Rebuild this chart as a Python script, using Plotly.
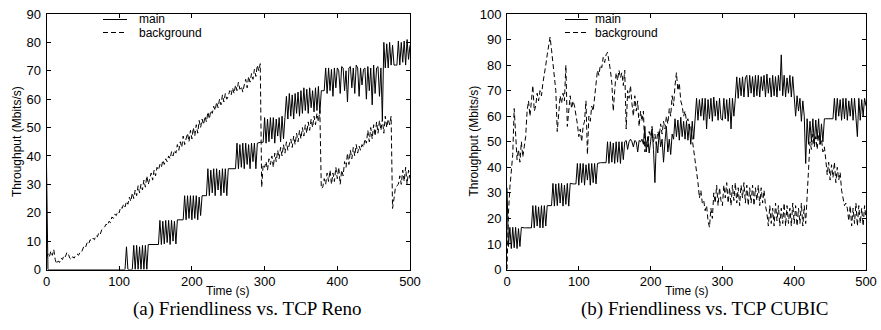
import plotly.graph_objects as go

# ---------------- data (sampled every 2 s) ----------------
time_s = list(range(0, 501, 2))

reno_main = [
    37, 0, 0, 0, 0, 0, 0, 0, 0, 0, 0, 0, 0, 0, 0, 0, 0, 0, 0, 0, 0, 0, 0, 0, 0,
    0, 0, 0, 0, 0, 0, 0, 0, 0, 0, 0, 0, 0, 0, 0, 0, 0, 0, 0, 0, 0, 0, 0, 0, 0,
    0, 0, 0, 0, 0, 8, 0, 0, 0, 0, 8.5, 0, 8.5, 0, 8, 0, 8.5, 0, 8.5, 0, 8.8, 8.8, 8.8, 8.8, 8.8,
    8.8, 8.8, 8.8, 17.3, 8.8, 17, 9, 17.3, 9.5, 17.3, 8.8, 17.3, 10, 17, 9, 17.5, 17.5, 17.5, 17.5, 17.5, 26, 17.5, 26, 18, 26,
    17.5, 26, 18, 26, 17.5, 25.5, 19, 26, 26, 26, 26, 35.5, 26, 35, 27, 35.5, 26, 35.5, 28, 35, 26, 35.5, 27, 35.5, 26,
    35.5, 35.5, 35.5, 35.5, 35.5, 35.5, 44.5, 35.5, 44, 36, 44.5, 35.5, 44.5, 37, 44, 35.5, 44.5, 38, 44.5, 35.5, 44.5, 44.8, 44.8, 44.8, 44.8,
    53.5, 44.5, 53, 45, 53.5, 46, 53.5, 44.5, 53, 47, 53.5, 45, 54, 46, 53.5, 61, 53, 62, 54, 61.5, 53, 62, 55, 62.5, 54,
    63, 55, 64, 56, 63.5, 55, 64, 57, 63, 55.5, 64, 56, 64.5, 55, 63, 63, 63, 71, 62, 71, 63, 70.5, 61, 71, 64,
    71, 70, 62, 71.5, 71, 63, 70, 59, 71, 71.5, 64, 71, 62, 72, 71, 61, 71, 65, 70.5, 71, 60, 71.5, 63, 71, 58,
    72, 62, 71, 71.5, 61, 71, 53, 80, 71, 79.5, 71, 80, 72, 79, 72, 72, 72, 80.5, 72, 80, 73, 80.5, 72, 81, 74,
    79,
]

reno_background = [
    4, 5.5, 4.5, 6.5, 5, 7, 3.5, 2, 3, 2.5, 4, 3.5, 5, 4.5, 6, 5.5, 4, 3.5, 4.5, 4, 5, 5.5, 5, 6, 6,
    7, 8.5, 8, 9.5, 9, 10.5, 10, 11, 10.5, 12, 11.5, 13, 12.5, 14, 14.5, 15, 16, 15.5, 17, 16.5, 18.5, 18, 19.5, 19, 20.5,
    20, 22, 21.5, 23, 22, 24, 23, 25.5, 24, 27, 25, 28, 26, 29.5, 27, 30, 28, 31.5, 29, 33, 30, 32, 34, 31.5, 35,
    33, 36, 35, 37, 36, 38.5, 37, 39, 38, 40, 39, 41.5, 40, 42, 41, 44, 42, 45, 43, 47, 44, 46, 48, 45, 49,
    46, 50, 47, 51, 48, 52.5, 50, 53, 51, 54, 52, 55.5, 53, 56, 55, 57.5, 56, 59, 57, 60, 58, 61.5, 59, 62, 60,
    61, 63, 61.5, 64, 62, 65, 63, 66, 63.5, 64.5, 62.5, 65, 67, 64, 68, 66, 69, 67, 70.5, 68, 72, 70, 72.5, 29, 37,
    36, 38, 35, 39, 37, 40, 36, 41, 38, 42, 39, 43, 40, 44, 41, 45, 42, 44, 46, 43, 47, 44, 48, 45, 49,
    46, 50, 47, 51, 48, 52, 49, 53, 50, 54, 51, 55, 52, 56, 28.5, 29, 32, 30, 34, 31, 35, 30, 34, 31, 36,
    32, 36, 30, 35, 33, 38, 36, 41, 37, 42, 39, 43, 40, 44, 41, 43.5, 42, 44, 43, 46, 44.5, 49, 45, 50, 46,
    51, 47, 52, 48, 52.5, 49, 53, 48, 54, 50, 53, 51, 54, 21.5, 25, 29, 29.5, 30, 33, 30, 35, 31, 36, 30, 35,
    32,
]

cubic_main = [
    32, 9, 16.5, 8.2, 16.5, 8.5, 16.5, 8.2, 16, 9, 16.5, 16.3, 16.3, 16.3, 16.3, 16.3, 16.3, 16.3, 25, 16.3, 25, 17, 24.5, 16.3, 25,
    16.3, 25, 17, 25, 25, 25, 25, 33.7, 24.8, 33.5, 25, 33.7, 26, 33.7, 24.8, 33, 25.5, 33.7, 24.8, 33.7, 33.5, 33.5, 33.5, 33.5, 41.5,
    33, 41.5, 34, 41.5, 33, 41, 35, 41.5, 33, 41.5, 34, 41.5, 33.5, 41.5, 41.8, 41.8, 41.8, 41.8, 41.8, 41.8, 50, 41.5, 50, 42, 49.5,
    41.5, 50, 42, 50, 41.5, 50, 43, 50, 50.5, 47, 50, 51, 50, 48, 50.5, 50, 46, 50.5, 50, 51, 49, 56, 46, 52, 45.6,
    50, 55, 47, 34, 50, 45.6, 54, 48, 51, 42, 50, 56, 46, 51, 45, 53, 51, 59, 52, 58.5, 50.6, 59.6, 52, 58, 51,
    58, 50.6, 57, 49, 58, 51, 57.5, 67, 58.4, 66.5, 60, 67, 58.4, 67, 55, 66.5, 59, 67, 58, 67.5, 60, 66, 58.4, 67, 59,
    58.4, 67, 59, 66.5, 58, 67, 55, 67, 60, 67, 75.4, 67, 75, 68, 75.4, 67.5, 75, 76, 67.5, 76, 69, 75.5, 67.5, 76, 68,
    76, 67.5, 75.5, 70, 76, 67.5, 76.5, 69, 75, 67.5, 76, 68, 75.5, 67.5, 76, 70, 84, 68, 76, 67.5, 75, 69, 76, 67.5, 75.5,
    69, 60, 68, 62, 67, 58, 66, 60, 41.5, 59, 49, 58, 50, 59, 49, 58.5, 51, 59, 49, 57, 50, 59, 59, 59, 59,
    59, 59, 59, 67, 58.4, 67, 60, 66.5, 58.4, 67, 59, 67, 58.4, 66, 60, 67, 58.4, 67, 59, 52, 67, 58.4, 66.5, 60, 67,
    64,
]

cubic_background = [
    0, 22, 32, 40, 45, 63, 50, 43, 47, 42, 50, 44, 48, 52, 62, 66, 60, 68, 72, 62, 64, 69, 66, 70, 68,
    73, 76, 80, 84, 88, 91, 86, 80, 77, 70, 54, 62, 68, 65, 69, 66, 80, 56, 62, 68, 63, 66, 64, 61, 57,
    52, 55, 50, 56, 58, 66, 45, 60, 58, 64, 62, 67, 72, 78, 76, 80, 79, 83, 81, 84, 85, 82, 78, 73, 62,
    70, 77, 74, 78, 75, 77, 72, 78, 55, 70, 67, 72, 65, 60, 68, 62, 66, 56, 62, 58, 62, 46, 50, 48, 54,
    52, 56, 50, 53, 49, 54, 52, 57, 53, 58, 55, 60, 57, 63, 60, 68, 64, 72, 77, 70, 73, 66, 64, 60, 62,
    58, 59, 55, 56, 51, 47, 43, 38, 34, 28, 31, 26, 27, 23, 25, 19, 16.5, 24, 20, 30, 26, 33, 25, 32, 27,
    25, 33, 28, 34, 26, 32, 25, 33, 27, 34, 26, 32, 25, 33, 28, 34, 26, 33, 25, 32, 26, 33, 25, 32, 27,
    33, 25, 32, 26, 31, 25, 22, 17, 25, 18, 24, 17, 26, 19, 25, 17, 24, 18, 26, 17, 25, 18, 24, 17, 26,
    18, 25, 17, 24, 18, 26, 17, 25, 18, 28, 42, 50, 47, 53, 48, 52, 47, 53, 49, 51, 46, 48, 43, 37, 42,
    35, 41, 36, 42, 34, 40, 35, 38, 31, 28, 25, 26, 24, 19, 25, 17, 24, 18, 26, 17, 25, 18, 24, 17, 25,
    20,
]

series_names = ["main", "background"]
captions = ["(a) Friendliness vs. TCP Reno", "(b) Friendliness vs. TCP CUBIC"]
x_ticks = [0, 100, 200, 300, 400, 500]
y_max = [90, 100]

# ---------------- figure ----------------
W, H = 881, 330
SANS = "Liberation Sans, Arial, sans-serif"
SERIF = "Liberation Serif, DejaVu Serif, serif"
DASH = "5px,3px"

fig = go.Figure()

panels = [
    ("x", "y", reno_main, reno_background),
    ("x2", "y2", cubic_main, cubic_background),
]
for xa, ya, main, bg in panels:
    fig.add_trace(go.Scatter(x=time_s, y=main, mode="lines", xaxis=xa, yaxis=ya,
                             line=dict(color="black", width=1), showlegend=False,
                             name=series_names[0]))
    fig.add_trace(go.Scatter(x=time_s, y=bg, mode="lines", xaxis=xa, yaxis=ya,
                             line=dict(color="black", width=1, dash=DASH), showlegend=False,
                             name=series_names[1]))

px_x = lambda p: p / W
px_y = lambda p: (H - p) / H

ydom = [px_y(269.5), px_y(14)]
xdoms = [[px_x(46.5), px_x(410)], [px_x(507), px_x(866)]]

axis_common = dict(
    showline=True, linecolor="black", linewidth=1, mirror="ticks",
    ticks="inside", ticklen=4, tickwidth=1, tickcolor="black",
    showgrid=False, zeroline=False, automargin=False,
    tickfont=dict(family=SANS, size=13, color="black"),
)

for i, (xa, ya) in enumerate([("xaxis", "yaxis"), ("xaxis2", "yaxis2")]):
    anchor_y = "y" if i == 0 else "y2"
    anchor_x = "x" if i == 0 else "x2"
    fig.layout[xa] = dict(domain=xdoms[i], anchor=anchor_y, range=[0, 500],
                          tickvals=x_ticks, **axis_common)
    fig.layout[ya] = dict(domain=ydom, anchor=anchor_x, range=[0, y_max[i]],
                          dtick=10, ticklabelstandoff=2, **axis_common)

annotations = []
shapes = []
ylabel_x = [16.5, 473]
caption_x = [247, 704.5]
legend_line = [(103, 127), (565, 588)]
legend_text_x = [137, 593]
for i in range(2):
    xd = xdoms[i]
    annotations.append(dict(text="Time (s)", x=(xd[0] + xd[1]) / 2, y=px_y(290.5),
                            xref="paper", yref="paper", showarrow=False,
                            xanchor="center", yanchor="middle",
                            font=dict(family=SANS, size=12, color="black")))
    annotations.append(dict(text="Throughput (Mbits/s)", x=px_x(ylabel_x[i]), y=px_y(141.5),
                            xref="paper", yref="paper", showarrow=False, textangle=-90,
                            xanchor="center", yanchor="middle",
                            font=dict(family=SANS, size=12, color="black")))
    annotations.append(dict(text=captions[i], x=px_x(caption_x[i]), y=px_y(309),
                            xref="paper", yref="paper", showarrow=False,
                            xanchor="center", yanchor="middle",
                            font=dict(family=SERIF, size=19, color="black")))
    for j, (name, ypix) in enumerate(zip(series_names, [19.5, 32.5])):
        annotations.append(dict(text=name, x=px_x(legend_text_x[i]), y=px_y(ypix),
                                xref="paper", yref="paper", showarrow=False,
                                xanchor="left", yanchor="middle",
                                font=dict(family=SANS, size=12, color="black")))
        shapes.append(dict(type="line", xref="paper", yref="paper",
                           x0=px_x(legend_line[i][0]), x1=px_x(legend_line[i][1]),
                           y0=px_y(ypix), y1=px_y(ypix),
                           line=dict(color="black", width=1,
                                     dash="solid" if j == 0 else DASH)))

fig.update_layout(
    width=W, height=H,
    margin=dict(l=0, r=0, t=0, b=0, autoexpand=False),
    paper_bgcolor="white", plot_bgcolor="white",
    showlegend=False,
    annotations=annotations, shapes=shapes,
)

fig.write_html(
    "out.html",
    config={"displayModeBar": False, "staticPlot": True},
    post_script="document.body.style.margin='0px';document.body.style.padding='0px';"
                "document.documentElement.style.overflow='hidden';",
)
